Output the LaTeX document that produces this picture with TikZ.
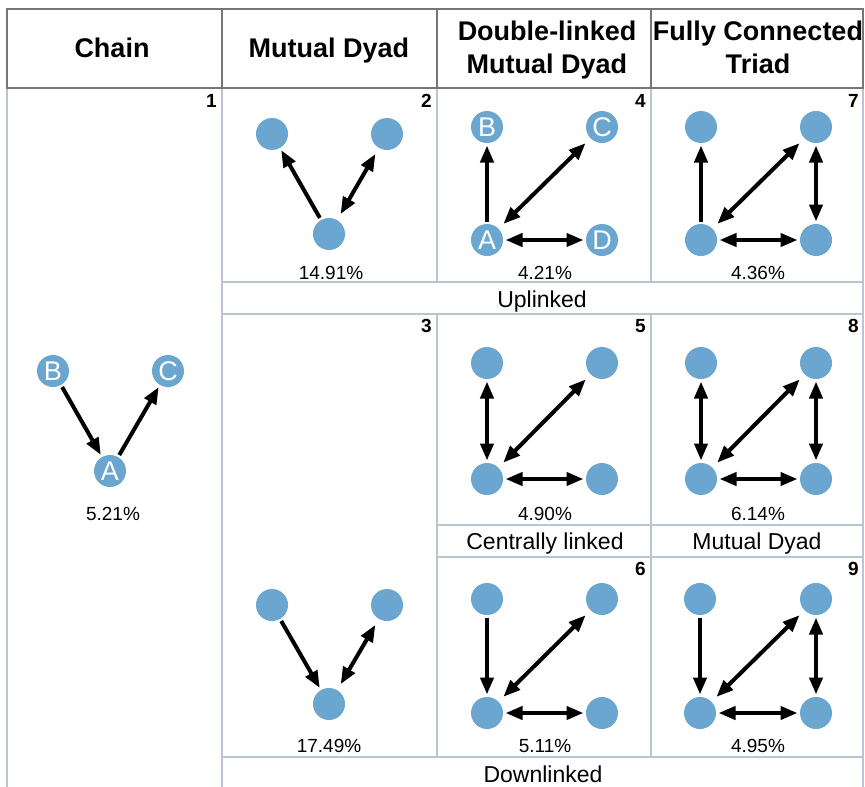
\documentclass[tikz,border=0pt]{standalone}
\usepackage{fontspec}
\setmainfont{Liberation Sans}
\usetikzlibrary{arrows.meta}
\definecolor{nodeblue}{RGB}{106,166,207}
\definecolor{hdrline}{RGB}{118,118,118}
\definecolor{gridline}{RGB}{186,198,205}
\begin{document}
\begin{tikzpicture}[x=1pt,y=-1pt,
  dot/.style={circle, fill=nodeblue, minimum size=32pt, inner sep=0pt, outer sep=2.5pt,
    text=white, font=\fontsize{27}{27}\selectfont},
  lnk/.style={line width=4pt, -{Triangle[length=17pt,width=13pt]}},
  dbl/.style={line width=4pt, {Triangle[length=17pt,width=13pt]}-{Triangle[length=17pt,width=13pt]}},
  diag/.style={shorten <=4.5pt, shorten >=4.5pt},
  hdr/.style={font=\bfseries\fontsize{27}{27}\selectfont, anchor=base},
  num/.style={font=\bfseries\fontsize{19}{19}\selectfont, anchor=base east, inner sep=0pt},
  pct/.style={font=\fontsize{19}{19}\selectfont, anchor=base, inner sep=0pt},
  lbl/.style={font=\fontsize{23}{23}\selectfont, anchor=base, inner sep=0pt},
  hline/.style={draw=hdrline, line width=2pt},
  gline/.style={draw=gridline, line width=1.4pt}
]
\useasboundingbox (0,0) rectangle (865,787);
\fill[white] (0,0) rectangle (865,787);

% ---------- grid ----------
\draw[gline] (7,88) -- (7,787);
\draw[gline] (222,88) -- (222,787);
\draw[gline] (863,88) -- (863,787);
\draw[gline] (437,88) -- (437,282);
\draw[gline] (651,88) -- (651,282);
\draw[gline] (222,282) -- (863,282);
\draw[gline] (222,314) -- (863,314);
\draw[gline] (437,314) -- (437,757);
\draw[gline] (651,314) -- (651,757);
\draw[gline] (437,525) -- (863,525);
\draw[gline] (437,557) -- (863,557);
\draw[gline] (222,757) -- (863,757);

% ---------- header ----------
\draw[hline] (7,9) rectangle (863,88);
\draw[hline] (222,9) -- (222,88);
\draw[hline] (437,9) -- (437,88);
\draw[hline] (651,9) -- (651,88);
\node[hdr] (h1) at (112,57) {Chain};
\node[hdr] (h2) at (329,57) {Mutual Dyad};
\node[hdr] (h3a) at (547,40) {Double-linked};
\node[hdr] (h3b) at (547,73) {Mutual Dyad};
\node[hdr] (h4a) at (758,40) {Fully Connected};
\node[hdr] (h4b) at (758,73) {Triad};

% ---------- cell numbers ----------
\node[num] (n1) at (217,107) {1};
\node[num] (n2) at (432,107) {2};
\node[num] (n4) at (646,107) {4};
\node[num] (n7) at (859,107) {7};
\node[num] (n3) at (432,332) {3};
\node[num] (n5) at (646,332) {5};
\node[num] (n8) at (859,332) {8};
\node[num] (n6) at (646,575) {6};
\node[num] (n9) at (859,575) {9};

% ---------- row labels ----------
\node[lbl] (up) at (542,307) {Uplinked};
\node[lbl] (cl) at (545,549) {Centrally linked};
\node[lbl] (md) at (757,549) {Mutual Dyad};
\node[lbl] (dn) at (543,782) {Downlinked};

% ---------- cell 1: chain ----------
\node[dot] (c1b) at (53,371) {B};
\node[dot] (c1c) at (168,371) {C};
\node[dot] (c1a) at (110,471) {A};
\draw[lnk] (c1b) -- (c1a);
\draw[lnk] (c1a) -- (c1c);
\node[pct] (p1) at (113,520) {5.21\%};

% ---------- cell 2 ----------
\node[dot] (c2l) at (272,134) {};
\node[dot] (c2r) at (387,134) {};
\node[dot] (c2b) at (329,234) {};
\draw[lnk] (c2b) -- (c2l);
\draw[dbl,diag] (c2b) -- (c2r);
\node[pct] (p2) at (331,279) {14.91\%};

% ---------- cell 3 ----------
\node[dot] (c3l) at (272,605) {};
\node[dot] (c3r) at (387,605) {};
\node[dot] (c3b) at (329,704) {};
\draw[lnk] (c3l) -- (c3b);
\draw[dbl,diag] (c3b) -- (c3r);
\node[pct] (p3) at (329,752) {17.49\%};

% ---------- cell 4 ----------
\node[dot] (c4b) at (487,127) {B};
\node[dot] (c4c) at (602,127) {C};
\node[dot] (c4a) at (487,240) {A};
\node[dot] (c4d) at (602,240) {D};
\draw[lnk] (c4a) -- (c4b);
\draw[dbl,diag] (c4a) -- (c4c);
\draw[dbl] (c4a) -- (c4d);
\node[pct] (p4) at (545,279) {4.21\%};

% ---------- cell 7 ----------
\node[dot] (c7tl) at (701,127) {};
\node[dot] (c7tr) at (816,127) {};
\node[dot] (c7bl) at (701,240) {};
\node[dot] (c7br) at (816,240) {};
\draw[lnk] (c7bl) -- (c7tl);
\draw[dbl,diag] (c7bl) -- (c7tr);
\draw[dbl] (c7tr) -- (c7br);
\draw[dbl] (c7bl) -- (c7br);
\node[pct] (p7) at (758,279) {4.36\%};

% ---------- cell 5 ----------
\node[dot] (c5tl) at (487,363) {};
\node[dot] (c5tr) at (602,363) {};
\node[dot] (c5bl) at (487,479) {};
\node[dot] (c5br) at (602,479) {};
\draw[dbl] (c5tl) -- (c5bl);
\draw[dbl,diag] (c5bl) -- (c5tr);
\draw[dbl] (c5bl) -- (c5br);
\node[pct] (p5) at (545,520) {4.90\%};

% ---------- cell 8 ----------
\node[dot] (c8tl) at (701,363) {};
\node[dot] (c8tr) at (816,363) {};
\node[dot] (c8bl) at (701,479) {};
\node[dot] (c8br) at (816,479) {};
\draw[dbl] (c8tl) -- (c8bl);
\draw[dbl,diag] (c8bl) -- (c8tr);
\draw[dbl] (c8tr) -- (c8br);
\draw[dbl] (c8bl) -- (c8br);
\node[pct] (p8) at (758,520) {6.14\%};

% ---------- cell 6 ----------
\node[dot] (c6tl) at (487,599) {};
\node[dot] (c6tr) at (602,599) {};
\node[dot] (c6bl) at (487,713) {};
\node[dot] (c6br) at (602,713) {};
\draw[lnk] (c6tl) -- (c6bl);
\draw[dbl,diag] (c6bl) -- (c6tr);
\draw[dbl] (c6bl) -- (c6br);
\node[pct] (p6) at (545,752) {5.11\%};

% ---------- cell 9 ----------
\node[dot] (c9tl) at (700,599) {};
\node[dot] (c9tr) at (816,599) {};
\node[dot] (c9bl) at (700,713) {};
\node[dot] (c9br) at (816,713) {};
\draw[lnk] (c9tl) -- (c9bl);
\draw[dbl,diag] (c9bl) -- (c9tr);
\draw[dbl] (c9tr) -- (c9br);
\draw[dbl] (c9bl) -- (c9br);
\node[pct] (p9) at (758,752) {4.95\%};
\end{tikzpicture}
\end{document}
